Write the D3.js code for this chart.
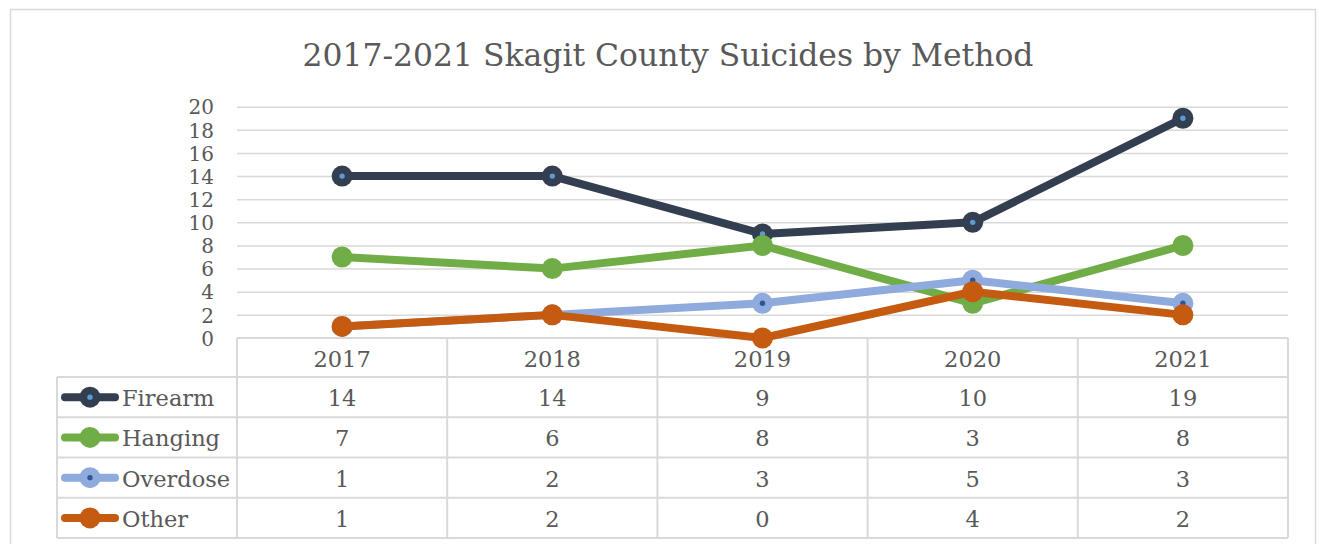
<!DOCTYPE html>
<html>
<head>
<meta charset="utf-8">
<script src="https://cdn.jsdelivr.net/npm/d3@7"></script>
<style>
  html, body { margin: 0; padding: 0; background: #fff; }
  svg { display: block; }
  text { font-family: "DejaVu Serif", serif; fill: #595959; }
</style>
</head>
<body>
<svg id="chart" width="1319" height="544"></svg>
<script>
// ---- data ----
const title = "2017-2021 Skagit County Suicides by Method";
const years = ["2017", "2018", "2019", "2020", "2021"];
const seriesNames = ["Firearm", "Hanging", "Overdose", "Other"];
const firearm  = [14, 14, 9, 10, 19];
const hanging  = [7, 6, 8, 3, 8];
const overdose = [1, 2, 3, 5, 3];
const other    = [1, 2, 0, 4, 2];
const yTicks = [0, 2, 4, 6, 8, 10, 12, 14, 16, 18, 20];

// ---- styles ----
const colors = {Firearm: "#333F50", Hanging: "#70AD47", Overdose: "#8FAADC", Other: "#C55A11"};
const innerDot = {Firearm: "#5B9BD5", Overdose: "#2F5597"};
const seriesValues = {Firearm: firearm, Hanging: hanging, Overdose: overdose, Other: other};

const svg = d3.select("#chart");
const grid = "#D9D9D9";

// layout
const plotLeft = 237, plotRight = 1288, plotTop = 106.7, plotBottom = 338;
const legendLeft = 57, headerBottom = 377, tableBottom = 538;

// outer border
svg.append("rect").attr("x", 10.5).attr("y", 9.5).attr("width", 1305).attr("height", 560)
  .attr("fill", "none").attr("stroke", grid).attr("stroke-width", 1.5);

const x = d3.scaleBand().domain(years).range([plotLeft, plotRight]);
const y = d3.scaleLinear().domain([0, 20]).range([plotBottom, plotTop]);
const row = d3.scaleBand().domain(seriesNames).range([headerBottom, tableBottom]);

// title
const t = svg.append("text").attr("x", 668).attr("y", 66).attr("text-anchor", "middle")
  .attr("font-size", 30).text(title);
const w = t.node().getComputedTextLength();
t.attr("font-size", 30 * 731 / w);

// gridlines
const gAxis = svg.append("g").attr("transform", `translate(${plotLeft},0)`)
  .call(d3.axisLeft(y).tickValues(yTicks.filter(v => v > 0)).tickSize(-(plotRight - plotLeft)).tickFormat(""));
gAxis.select(".domain").remove();
gAxis.selectAll("line").attr("stroke", grid).attr("stroke-width", 1.5);

// y tick labels
const yAxis = svg.append("g").attr("transform", `translate(${plotLeft - 23},0)`)
  .call(d3.axisLeft(y).tickValues(yTicks).tickSize(0).tickPadding(0));
yAxis.select(".domain").remove();
yAxis.selectAll("text").attr("font-family", "DejaVu Serif").attr("font-size", 20)
  .attr("fill", "#595959").attr("dy", "0.36em");

// table lines
const tbl = svg.append("g").attr("stroke", grid).attr("stroke-width", 2).attr("fill", "none");
tbl.append("line").attr("x1", plotLeft).attr("x2", plotRight).attr("y1", plotBottom).attr("y2", plotBottom);
[...years.map(d => x(d)), plotRight].forEach(v => {
  tbl.append("line").attr("x1", v).attr("x2", v).attr("y1", plotBottom).attr("y2", tableBottom);
});
tbl.append("line").attr("x1", legendLeft).attr("x2", legendLeft).attr("y1", headerBottom).attr("y2", tableBottom);
[...seriesNames.map(d => row(d)), tableBottom].forEach(v => {
  tbl.append("line").attr("x1", legendLeft).attr("x2", plotRight).attr("y1", v).attr("y2", v);
});

// header years
svg.append("g").selectAll("text").data(years).join("text")
  .attr("x", d => x(d) + x.bandwidth() / 2).attr("y", (plotBottom + headerBottom) / 2 + 1)
  .attr("text-anchor", "middle").attr("dominant-baseline", "central").attr("font-size", 22.5)
  .text(d => d);

// table values
seriesNames.forEach(name => {
  svg.append("g").selectAll("text").data(seriesValues[name]).join("text")
    .attr("x", (d, i) => x(years[i]) + x.bandwidth() / 2)
    .attr("y", row(name) + row.bandwidth() / 2 + 1)
    .attr("text-anchor", "middle").attr("dominant-baseline", "central").attr("font-size", 22.5)
    .text(d => d);
});

function marker(g, cx, cy, name) {
  g.append("circle").attr("cx", cx).attr("cy", cy).attr("r", 10.5).attr("fill", colors[name]);
  if (innerDot[name]) {
    g.append("circle").attr("cx", cx).attr("cy", cy).attr("r", 2.7).attr("fill", innerDot[name]);
  }
}

// legend keys
seriesNames.forEach(name => {
  const cy = row(name) + row.bandwidth() / 2;
  const g = svg.append("g");
  g.append("line").attr("x1", 65).attr("x2", 115).attr("y1", cy).attr("y2", cy)
    .attr("stroke", colors[name]).attr("stroke-width", 8).attr("stroke-linecap", "round");
  marker(g, 90, cy, name);
  svg.append("text").attr("x", 122).attr("y", cy + 1).attr("dominant-baseline", "central")
    .attr("font-size", 22.5).text(name);
});

// lines
const line = d3.line().x((d, i) => x(years[i]) + x.bandwidth() / 2).y(d => y(d));
seriesNames.forEach(name => {
  const g = svg.append("g");
  g.append("path").datum(seriesValues[name]).attr("d", line).attr("fill", "none")
    .attr("stroke", colors[name]).attr("stroke-width", 8).attr("stroke-linejoin", "round");
  seriesValues[name].forEach((v, i) => marker(g, x(years[i]) + x.bandwidth() / 2, y(v), name));
});
</script>
</body>
</html>
